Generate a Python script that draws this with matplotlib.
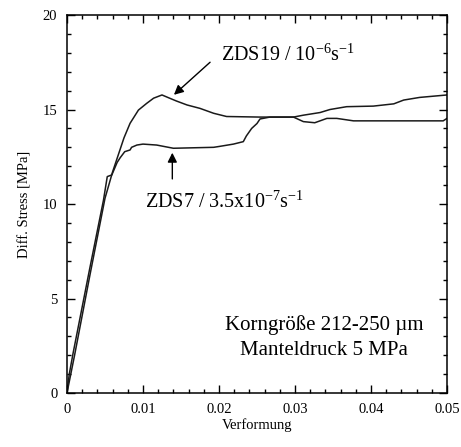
import matplotlib
matplotlib.use("Agg")
import matplotlib.pyplot as plt
from matplotlib.ticker import MultipleLocator

plt.rcParams['font.family'] = ['Liberation Serif', 'DejaVu Serif']

# ZDS19 / 1e-6 s^-1
zds19_x = [0, 0.0004, 0.001, 0.003, 0.005, 0.006, 0.0065, 0.0075, 0.0083, 0.0094, 0.0105,
           0.0114, 0.0125, 0.0135, 0.0144, 0.0158, 0.0175, 0.0193, 0.021, 0.0254, 0.0298,
           0.0311, 0.0326, 0.0342, 0.0355, 0.0377, 0.042, 0.046, 0.0495, 0.05]
zds19_y = [0, 0.8, 2.0, 6.2, 10.3, 11.7, 12.3, 13.5, 14.27, 14.97, 15.33,
           15.6, 15.77, 15.6, 15.45, 15.24, 15.06, 14.8, 14.63, 14.6, 14.6,
           14.36, 14.3, 14.53, 14.53, 14.4, 14.4, 14.4, 14.4, 14.53]

# ZDS7 / 3.5e-7 s^-1
zds7_x = [0, 0.0003, 0.0008, 0.003, 0.0048, 0.0053, 0.0059, 0.0066, 0.007, 0.0076, 0.0083,
          0.0085, 0.0092, 0.01, 0.0118, 0.014, 0.0193, 0.0201, 0.0219, 0.0232, 0.0236,
          0.0243, 0.025, 0.0254, 0.0267, 0.0298, 0.0311, 0.0333, 0.0346, 0.0368, 0.0403,
          0.043, 0.0443, 0.0464, 0.05]
zds7_y = [0, 1.0, 2.1, 6.6, 10.2, 11.45, 11.54, 12.2, 12.45, 12.77, 12.86,
          13.0, 13.12, 13.17, 13.12, 12.95, 13.0, 13.05, 13.17, 13.3, 13.6,
          14.0, 14.26, 14.5, 14.6, 14.6, 14.7, 14.84, 15.0, 15.15, 15.18,
          15.3, 15.5, 15.64, 15.77]

x_ticks = [0, 0.01, 0.02, 0.03, 0.04, 0.05]
x_labels = ['0', '0.01', '0.02', '0.03', '0.04', '0.05']
y_ticks = [0, 5, 10, 15, 20]
y_labels = ['0', '5', '10', '15', '20']

fig = plt.figure(figsize=(4.61, 4.47), dpi=100)
ax = fig.add_axes([0.1453, 0.1208, 0.8243, 0.8456])

ax.plot(zds19_x, zds19_y, color='#1a1a1a', lw=1.1)
ax.plot(zds7_x, zds7_y, color='#1a1a1a', lw=1.1)

ax.set_xlim(0, 0.05)
ax.set_ylim(0, 20)
ax.set_xticks(x_ticks)
ax.set_xticklabels(x_labels)
ax.set_yticks(y_ticks)
ax.set_yticklabels(y_labels)
ax.xaxis.set_minor_locator(MultipleLocator(0.002))
ax.yaxis.set_minor_locator(MultipleLocator(1))
ax.tick_params(which='both', direction='in', top=True, right=True, labelsize=10.5, width=1)
ax.tick_params(which='major', length=6, pad=7)
ax.tick_params(which='minor', length=3)
for s in ax.spines.values():
    s.set_linewidth(1.1)

ax.set_xlabel('Verformung', fontsize=10.5, labelpad=2)
ax.set_ylabel('Diff. Stress [MPa]', fontsize=10.5, labelpad=8)

# Pfeile und Beschriftungen
ax.annotate('', xy=(0.0138, 15.68), xytext=(0.0191, 17.6),
            arrowprops=dict(arrowstyle='-|>', color='black', lw=1, mutation_scale=14))
ax.text(0.0203, 17.88, r'ZDS19 / 10$^{\mathregular{-6}}$s$^{\mathregular{-1}}$', fontsize=14.5,
        va='center', ha='left')

ax.annotate('', xy=(0.01386, 12.86), xytext=(0.01386, 11.18),
            arrowprops=dict(arrowstyle='-|>', color='black', lw=1, mutation_scale=14))
ax.text(0.0103, 10.1, r'ZDS7 / 3.5x10$^{\mathregular{-7}}$s$^{\mathregular{-1}}$', fontsize=14.5,
        va='center', ha='left')

ax.text(0.0338, 3.6, 'Korngröße 212-250 µm', fontsize=15, ha='center', va='center')
ax.text(0.0338, 2.27, 'Manteldruck 5 MPa', fontsize=15, ha='center', va='center')

fig.savefig('out.png', dpi=100)
